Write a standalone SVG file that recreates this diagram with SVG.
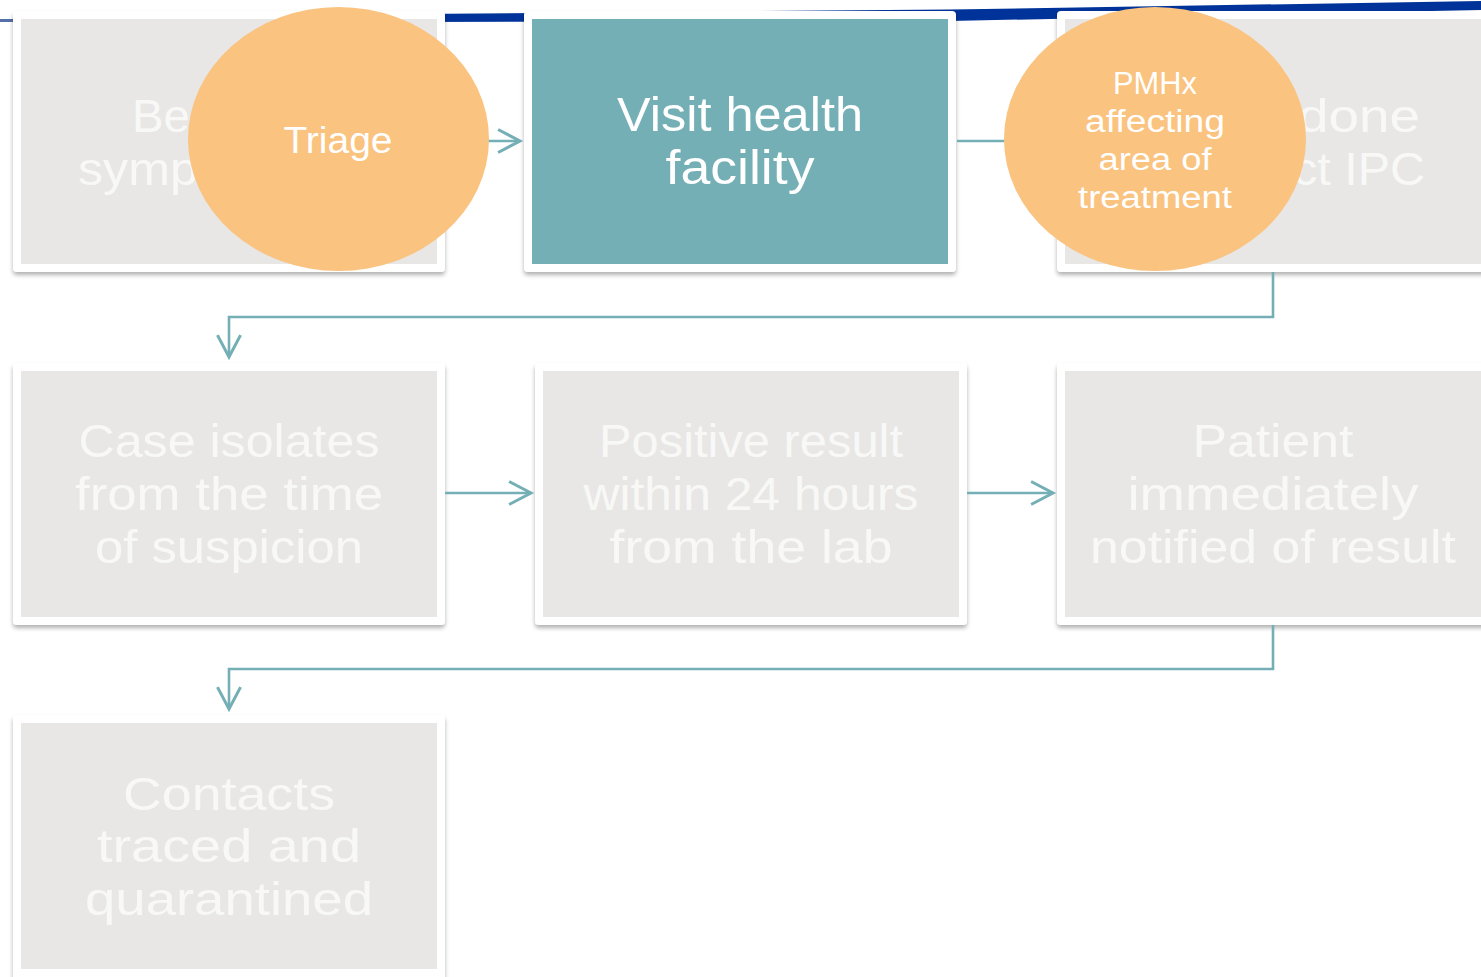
<svg xmlns="http://www.w3.org/2000/svg" width="1481" height="977" viewBox="0 0 1481 977">
<style>
.frame{fill:#ffffff;filter:url(#sh)}
.grey{fill:#E8E7E5}
.teal{fill:#74AFB6}
.oval{fill:#FAC380}
.t{font-family:"Liberation Sans","DejaVu Sans",sans-serif;fill:#F8F8F7;font-size:46px;text-anchor:middle}
.tw{font-family:"Liberation Sans","DejaVu Sans",sans-serif;fill:#ffffff;text-anchor:middle}
.c{fill:none;stroke:#74AFB6;stroke-width:2.6}
</style>
<defs>
<filter id="sh" x="-5%" y="-5%" width="110%" height="115%">
<feDropShadow dx="0" dy="3" stdDeviation="2" flood-color="#000" flood-opacity="0.3"/>
</filter>
<marker id="ah" markerUnits="userSpaceOnUse" markerWidth="30" markerHeight="30" viewBox="-22 -13 26 26" refX="0" refY="0" orient="auto">
<path d="M-19,-10 L0,0 L-19,10" fill="none" stroke="#74AFB6" stroke-width="2.6"/>
</marker>
</defs>
<rect width="1481" height="977" fill="#ffffff"/>
<polygon points="0,19.5 415,14 950,9.5 1481,1 1481,10 950,21 415,22 0,21" fill="#003399"/>
<polygon points="0,19 13,19 13,22 0,22" fill="#5570A8"/>

<g id="node-become">
<rect class="frame" x="13" y="11" width="432" height="261" rx="4"/>
<rect class="grey" x="21" y="19" width="416" height="245"/>
<text class="t" style="text-anchor:start;font-size:47px" x="132" y="132" textLength="58" lengthAdjust="spacingAndGlyphs">Be</text>
<text class="t" style="text-anchor:start;font-size:47px" x="78" y="185" textLength="120" lengthAdjust="spacingAndGlyphs">symp</text>
</g>
<g id="node-visit">
<rect class="frame" x="524" y="11" width="432" height="261" rx="4"/>
<rect class="teal" x="532" y="19" width="416" height="245"/>
<text class="tw" style="font-size:48px" x="740" y="131" textLength="246" lengthAdjust="spacingAndGlyphs">Visit health</text>
<text class="tw" style="font-size:48px" x="740" y="184" textLength="149" lengthAdjust="spacingAndGlyphs">facility</text>
</g>
<g id="node-done">
<rect class="frame" x="1057" y="11" width="440" height="261" rx="4"/>
<rect class="grey" x="1065" y="19" width="424" height="245"/>
<text class="t" style="text-anchor:end;font-size:47px" x="1420" y="132" textLength="122" lengthAdjust="spacingAndGlyphs">done</text>
<text class="t" style="text-anchor:end;font-size:47px" x="1425" y="185" textLength="132" lengthAdjust="spacingAndGlyphs">ct IPC</text>
</g>
<g id="node-case">
<rect class="frame" x="13" y="363" width="432" height="262" rx="4"/>
<rect class="grey" x="21" y="371" width="416" height="246"/>
<text class="t" x="229" y="457" textLength="301" lengthAdjust="spacingAndGlyphs">Case isolates</text>
<text class="t" x="229" y="510" textLength="308" lengthAdjust="spacingAndGlyphs">from the time</text>
<text class="t" x="229" y="563" textLength="268" lengthAdjust="spacingAndGlyphs">of suspicion</text>
</g>
<g id="node-positive">
<rect class="frame" x="535" y="363" width="432" height="262" rx="4"/>
<rect class="grey" x="543" y="371" width="416" height="246"/>
<text class="t" x="751" y="457" textLength="304" lengthAdjust="spacingAndGlyphs">Positive result</text>
<text class="t" x="751" y="510" textLength="335" lengthAdjust="spacingAndGlyphs">within 24 hours</text>
<text class="t" x="751" y="563" textLength="283" lengthAdjust="spacingAndGlyphs">from the lab</text>
</g>
<g id="node-patient">
<rect class="frame" x="1057" y="363" width="440" height="262" rx="4"/>
<rect class="grey" x="1065" y="371" width="424" height="246"/>
<text class="t" x="1273" y="457" textLength="161" lengthAdjust="spacingAndGlyphs">Patient</text>
<text class="t" x="1273" y="510" textLength="291" lengthAdjust="spacingAndGlyphs">immediately</text>
<text class="t" x="1273" y="563" textLength="366" lengthAdjust="spacingAndGlyphs">notified of result</text>
</g>
<g id="node-contacts">
<rect class="frame" x="13" y="715" width="432" height="270" rx="4"/>
<rect class="grey" x="21" y="723" width="416" height="246"/>
<text class="t" x="229" y="810" textLength="212" lengthAdjust="spacingAndGlyphs">Contacts</text>
<text class="t" x="229" y="862" textLength="264" lengthAdjust="spacingAndGlyphs">traced and</text>
<text class="t" x="229" y="915" textLength="288" lengthAdjust="spacingAndGlyphs">quarantined</text>
</g>

<g id="connectors">
<path class="c" d="M480,141 L520,141" marker-end="url(#ah)"/>
<path class="c" d="M957,141 L1010,141"/>
<path class="c" d="M1273,272 L1273,317 L229,317 L229,357" marker-end="url(#ah)"/>
<path class="c" d="M445,493 L531,493" marker-end="url(#ah)"/>
<path class="c" d="M967,493 L1053,493" marker-end="url(#ah)"/>
<path class="c" d="M1273,625 L1273,669 L229,669 L229,709" marker-end="url(#ah)"/>
</g>

<g id="node-triage">
<ellipse class="oval" cx="338.5" cy="139" rx="150.5" ry="132"/>
<text class="tw" style="font-size:36px" x="338" y="153" textLength="109" lengthAdjust="spacingAndGlyphs">Triage</text>
</g>
<g id="node-pmhx">
<ellipse class="oval" cx="1155" cy="139" rx="151" ry="132"/>
<text class="tw" style="font-size:31px" x="1155" y="94" textLength="84" lengthAdjust="spacingAndGlyphs">PMHx</text>
<text class="tw" style="font-size:31px" x="1155" y="132" textLength="140" lengthAdjust="spacingAndGlyphs">affecting</text>
<text class="tw" style="font-size:31px" x="1155" y="170" textLength="113" lengthAdjust="spacingAndGlyphs">area of</text>
<text class="tw" style="font-size:31px" x="1155" y="208" textLength="154" lengthAdjust="spacingAndGlyphs">treatment</text>
</g>
</svg>
